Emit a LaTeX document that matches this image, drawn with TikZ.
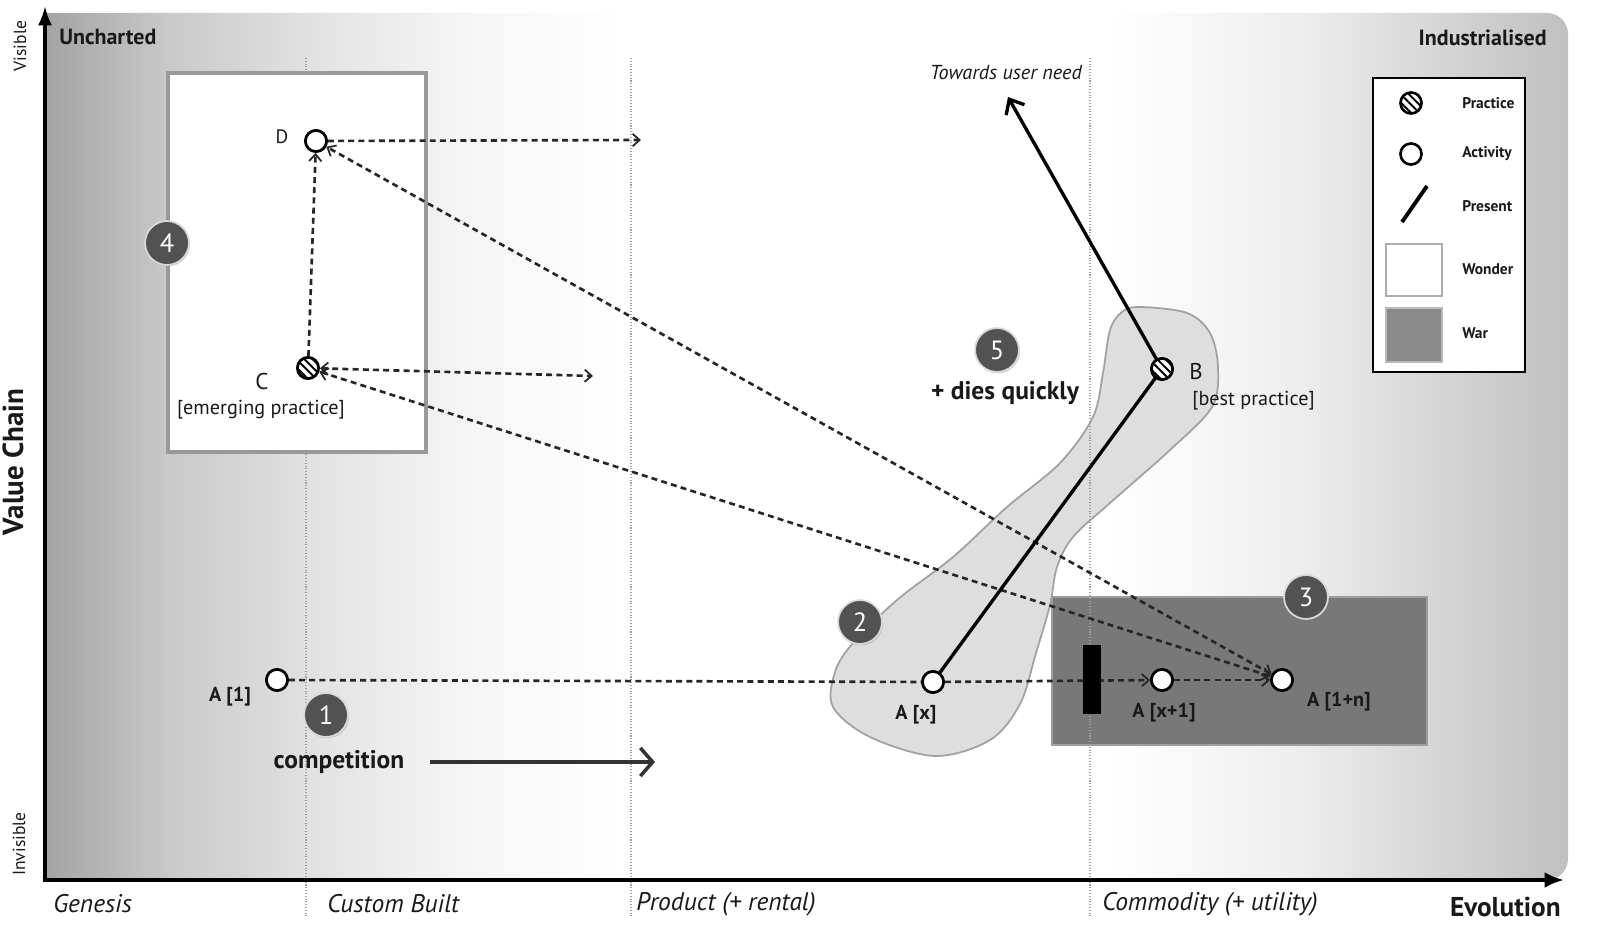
\documentclass[tikz,border=0pt]{standalone}
\usepackage{fontspec}
\setmainfont{PT Sans}
\usetikzlibrary{arrows.meta,patterns.meta,shadows}
\definecolor{bgA}{gray}{0.64}
\definecolor{bgB}{gray}{0.79}
\definecolor{bgC}{gray}{0.89}
\definecolor{bgD}{gray}{0.96}
\definecolor{bgE}{gray}{0.93}
\definecolor{bgF}{gray}{0.75}
\definecolor{badgegray}{gray}{0.32}
\definecolor{blobfill}{gray}{0.87}
\definecolor{blobedge}{gray}{0.63}
\definecolor{warfill}{gray}{0.47}
\definecolor{waredge}{gray}{0.62}
\definecolor{txt}{gray}{0.1}
\newcommand\fsz[1]{\fontsize{#1}{#1}\selectfont}
\begin{document}
\begin{tikzpicture}[x=0.02cm,y=-0.02cm,
  activity/.style={circle,draw=black,fill=white,line width=1.5pt,minimum size=12pt,inner sep=0pt},
  practice/.style={circle,draw=black,line width=1.5pt,minimum size=12pt,inner sep=0pt,
     preaction={fill=white},pattern={Lines[angle=-45,distance=3.3pt,line width=1.1pt]}},
  badge/.style={circle,fill=badgegray,draw=white!85!black,line width=1pt,minimum size=25pt,
     inner sep=0pt,text=white,font=\fsz{15},drop shadow={shadow xshift=0.6pt,shadow yshift=-0.8pt,opacity=0.35}},
  dashline/.style={dash pattern=on 3.4pt off 2.4pt,line width=1.5pt,draw=black!85},
  tipA/.style={-{Straight Barb[length=4pt,width=7pt,line width=1pt]}},
  tipB/.style={{Straight Barb[length=4pt,width=7pt,line width=1pt]}-{Straight Barb[length=4pt,width=7pt,line width=1pt]}},
  presentline/.style={line width=1.9pt,draw=black},
  gridline/.style={draw=gray!75,densely dotted,line width=0.6pt},
  lbl/.style={text=txt,inner sep=0pt},
  leg/.style={text=txt,inner sep=0pt,anchor=west,font=\fsz{8.8}\bfseries},
  axislbl/.style={text=txt,inner sep=0pt,font=\fsz{14.5}\itshape}
]
\useasboundingbox (0,0) rectangle (1600,932);
\fill[white] (0,0) rectangle (1600,932);

% background gradient
\begin{scope}
\clip[rounded corners=12pt] (0,13) rectangle (1568,880);
\shade[left color=bgA,right color=bgB] (45,13) rectangle (171,880);
\shade[left color=bgB,right color=bgC] (170,13) rectangle (321,880);
\shade[left color=bgC,right color=bgD] (320,13) rectangle (461,880);
\shade[left color=bgD,right color=white] (460,13) rectangle (621,880);
\fill[white] (620,13) rectangle (1111,880);
\shade[left color=white,right color=bgE] (1110,13) rectangle (1301,880);
\shade[left color=bgE,right color=bgF] (1300,13) rectangle (1570,880);
\end{scope}

% blob (fast evolution)
\draw[fill=blobfill,draw=blobedge,line width=1pt] plot[smooth cycle,tension=0.55] coordinates {
 (1140,307) (1187,313) (1210,333) (1218,367) (1212,407) (1170,450) (1110,503) (1073,537)
 (1057,567) (1050,605) (1036,653) (1020,704) (990,740) (935,756) (870,737) (833,707)
 (835,672) (853,643) (897,600) (953,557) (1007,507) (1060,463) (1093,417) (1103,373)
 (1110,330) (1122,312)};

% war box
\draw[fill=warfill,draw=waredge,line width=1.2pt] (1052,597) rectangle (1427,745);

% evolution stage lines
\draw[gridline] (306,58) -- (306,918);
\draw[gridline] (631,58) -- (631,918);
\draw[gridline] (1090,58) -- (1090,918);

% wonder box
\draw[fill=white,draw=gray!80,line width=1.8pt] (168,73) rectangle (426,452);

% axes
\coordinate (O) at (45,880);
\coordinate (ytop) at (45,6);
\coordinate (xend) at (1564,880);
\draw[line width=1.8pt,-{Latex[length=11pt,width=8pt]}] (O) -- (ytop);
\draw[line width=2.2pt,-{Latex[length=11pt,width=9pt]}] (43,880) -- (xend);

% nodes
\node[activity] (A1) at (277,680) {};
\node[activity] (Ax) at (933,682) {};
\node[activity] (Ax1) at (1162,680) {};
\node[activity] (A1n) at (1282,680) {};
\node[practice] (B) at (1162,369) {};
\node[practice] (C) at (308,368) {};
\node[activity] (D) at (316,141) {};
\coordinate (Dend) at (641,140);
\coordinate (Cend) at (593,376);
\coordinate (need) at (1008,97);

% connectors
\draw[dashline] (A1) -- (Ax);
\draw[dashline,tipA] (Ax) -- (Ax1);
\draw[dashline,tipA] (Ax1) -- (A1n);
\draw[dashline,tipB] (A1n) -- (D);
\draw[dashline,tipB] (A1n) -- (C);
\draw[dashline,tipA] (C) -- (D);
\draw[dashline,tipA] (D) -- (Dend);
\draw[dashline,tipB] (C) -- (Cend);
\draw[presentline] (Ax) -- (B);
\draw[presentline,-{Straight Barb[length=7pt,width=12pt,line width=1.9pt]}] (B) -- (need);

% inertia bar
\fill[black] (1083,645) rectangle (1101,714);

% competition arrow
\coordinate (compS) at (430,762);
\coordinate (compE) at (655,762);
\draw[line width=2.8pt,draw=black!80,-{Straight Barb[length=7pt,width=16pt,line width=2pt]}] (compS) -- (compE);

% redraw node circles on top
\node[activity] at (A1) {};
\node[activity] at (Ax) {};
\node[activity] at (Ax1) {};
\node[activity] at (A1n) {};
\node[practice] at (B) {};
\node[practice] at (C) {};
\node[activity] at (D) {};

% badges
\node[badge] (b1) at (326,715) {1};
\node[badge] (b2) at (860,622) {2};
\node[badge] (b3) at (1306,597) {3};
\node[badge] (b4) at (167,243) {4};
\node[badge] (b5) at (997,350) {5};

% labels
\node[lbl,anchor=west,font=\fsz{12.5}\bfseries] (unch) at (59,37) {Uncharted};
\node[lbl,anchor=east,font=\fsz{12.5}\bfseries] (ind) at (1547,38) {Industrialised};
\node[lbl,rotate=90,font=\fsz{10}] (vis) at (20,46) {Visible};
\node[lbl,rotate=90,font=\fsz{10}] (invis) at (19,844) {Invisible};
\node[lbl,rotate=90,font=\fsz{16.5}\bfseries] (vc) at (13,462) {Value Chain};
\node[lbl,font=\fsz{11.5}\itshape] (needlbl) at (1006,73) {Towards user need};
\node[lbl,font=\fsz{11}] (Dl) at (282,137) {D};
\node[lbl,font=\fsz{13}] (Cl) at (262,382) {C};
\node[lbl,font=\fsz{11.5}] (Cp) at (261,410) {[emerging practice]};
\node[lbl,font=\fsz{13}] (Bl) at (1196,372) {B};
\node[lbl,anchor=west,font=\fsz{11.5}] (Bp) at (1192,401) {[best practice]};
\node[lbl,font=\fsz{14.5}\bfseries] (dies) at (1005,393) {+ dies quickly};
\node[lbl,font=\fsz{11.5}\bfseries] (A1l) at (230,697) {A [1]};
\node[lbl,font=\fsz{11.5}\bfseries] (Axl) at (916,715) {A [x]};
\node[lbl,font=\fsz{11.5}\bfseries] (Ax1l) at (1164,713) {A [x+1]};
\node[lbl,font=\fsz{11.5}\bfseries] (A1nl) at (1339,702) {A [1+n]};
\node[lbl,font=\fsz{14.5}\bfseries] (comp) at (339,762) {competition};

% evolution axis labels
\node[axislbl,anchor=west] (gen) at (53,904) {Genesis};
\node[axislbl,anchor=west] (cus) at (327,904) {Custom Built};
\node[axislbl,anchor=west] (prod) at (636,904) {Product (+ rental)};
\node[axislbl,anchor=west] (comm) at (1102,904) {Commodity (+ utility)};
\node[lbl,anchor=east,font=\fsz{15.5}\bfseries] (evo) at (1561,907) {Evolution};

% legend
\draw[fill=white,draw=black,line width=1pt] (1373,78) rectangle (1525,372);
\node[practice] (lp) at (1411,103) {};
\node[activity] (la) at (1411,154) {};
\draw[line width=2.2pt] (1402,222) -- (1427,186);
\draw[fill=white,draw=gray!65,line width=1.6pt] (1386,244) rectangle (1442,296);
\draw[fill=gray!85!black!80,draw=gray!55,line width=1pt] (1386,308) rectangle (1442,362);
\node[leg] at (1462,103) {Practice};
\node[leg] at (1462,154) {Activity};
\node[leg] at (1462,206) {Present};
\node[leg] at (1462,269) {Wonder};
\node[leg] at (1462,333) {War};
\end{tikzpicture}
\end{document}
